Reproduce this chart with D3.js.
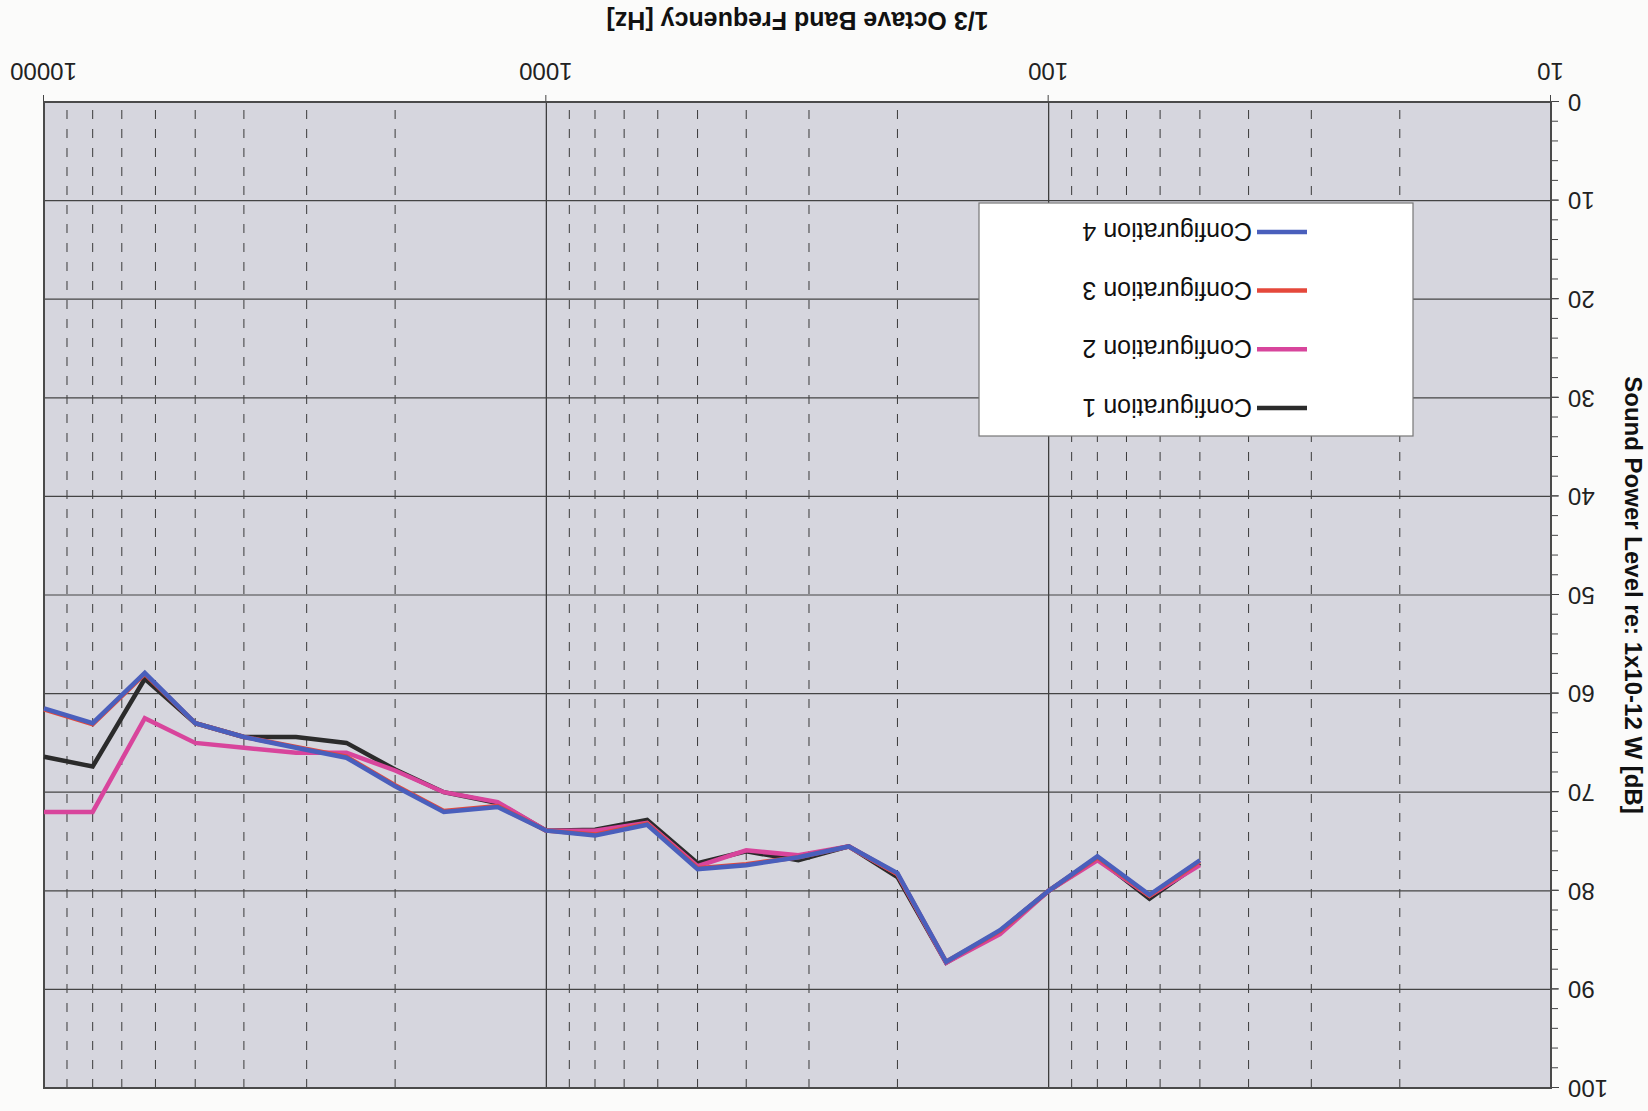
<!DOCTYPE html>
<html>
<head>
<meta charset="utf-8">
<script src="https://cdn.jsdelivr.net/npm/d3@7"></script>
<style>
    body { margin: 0; background: #fbfbfa; }
    svg { display: block; font-family: "Liberation Sans", Arial, sans-serif; }
    .axis path { display: none; }
    .axis line { stroke: #444; }
    .axis text { fill: #222; font-size: 24px; }
</style>
</head>
<body>
<div id="chart"></div>
<script>
// 1/3 octave band centre frequencies [Hz]
const freqs = [50, 63, 80, 100, 125, 160, 200, 250, 315, 400, 500, 630, 800, 1000,
    1250, 1600, 2000, 2500, 3150, 4000, 5000, 6300, 8000, 10000]

const config1 = [77.2, 80.8, 76.7, 80.0, 84.1, 87.3, 78.6, 75.5, 76.9, 76.0, 77.2, 72.8, 73.8, 73.9,
    71.1, 70.0, 67.7, 65.0, 64.4, 64.4, 63.0, 58.5, 67.4, 66.4]
const config2 = [77.4, 80.5, 76.9, 80.0, 84.4, 87.3, 78.3, 75.5, 76.4, 75.9, 77.5, 73.1, 73.9, 73.9,
    71.0, 70.0, 67.8, 66.0, 66.0, 65.5, 65.0, 62.5, 72.0, 72.0]
const config3 = [77.0, 80.5, 76.6, 80.0, 84.1, 87.2, 78.3, 75.5, 76.6, 77.3, 77.7, 73.2, 74.3, 73.9,
    71.4, 71.9, 69.3, 66.4, 65.4, 64.4, 63.0, 58.0, 63.1, 61.6]
const config4 = [76.9, 80.4, 76.5, 80.0, 84.0, 87.2, 78.2, 75.5, 76.6, 77.4, 77.8, 73.3, 74.4, 73.9,
    71.5, 72.0, 69.4, 66.5, 65.5, 64.4, 63.0, 57.9, 63.0, 61.5]

const seriesNames = ["Configuration 1", "Configuration 2", "Configuration 3", "Configuration 4"]
const seriesColors = ["#2b2b2b", "#d8459c", "#e5483b", "#4a5fbc"]

const xTicks = [10, 100, 1000, 10000]
const yTicks = [0, 10, 20, 30, 40, 50, 60, 70, 80, 90, 100]

const W = 1648, H = 1111
const margin = {top: 23, right: 44, bottom: 102, left: 97}
const width = W - margin.left - margin.right
const height = H - margin.top - margin.bottom

const svg = d3.select("#chart")
    .append("svg")
    .attr("width", W)
    .attr("height", H)

// the scanned page is upside down, so the whole chart is turned by 180 degrees
const root = svg.append("g")
    .attr("transform", "rotate(180 " + W / 2 + " " + H / 2 + ")")

const plt = root.append("g")
    .attr("transform", "translate(" + margin.left + "," + margin.top + ")")

const x = d3.scaleLog().domain([10, 10000]).range([0, width])
const y = d3.scaleLinear().domain([0, 100]).range([height, 0])

plt.append("rect")
    .attr("width", width)
    .attr("height", height)
    .attr("fill", "#d6d6de")

// minor (dashed) vertical grid: 20..90 of each decade
const minorX = []
for (let dec = 10; dec < 10000; dec *= 10)
    for (let k = 2; k <= 9; k++) minorX.push(dec * k)

plt.selectAll(".minorX")
    .data(minorX)
    .enter()
    .append("line")
    .attr("x1", d => x(d)).attr("x2", d => x(d))
    .attr("y1", 0).attr("y2", height)
    .attr("stroke", "#3a3a3a")
    .attr("stroke-width", 1)
    .attr("stroke-dasharray", "9,10")

plt.selectAll(".majorX")
    .data(xTicks)
    .enter()
    .append("line")
    .attr("x1", d => x(d)).attr("x2", d => x(d))
    .attr("y1", 0).attr("y2", height)
    .attr("stroke", "#333")
    .attr("stroke-width", 1.2)

plt.selectAll(".majorY")
    .data(yTicks)
    .enter()
    .append("line")
    .attr("x1", 0).attr("x2", width)
    .attr("y1", d => y(d)).attr("y2", d => y(d))
    .attr("stroke", "#444")
    .attr("stroke-width", 1.2)

// axes
plt.append("g")
    .attr("class", "axis")
    .attr("transform", "translate(0," + height + ")")
    .call(d3.axisBottom(x).tickValues(xTicks).tickFormat(d3.format("d")).tickSize(7).tickPadding(15))

plt.append("g")
    .attr("class", "axis")
    .call(d3.axisLeft(y).tickValues(d3.range(0, 101, 2)).tickFormat("").tickSize(7))

plt.append("g")
    .attr("class", "axis")
    .call(d3.axisLeft(y).tickValues(yTicks).tickSize(8).tickPadding(9))

plt.append("rect")
    .attr("width", width)
    .attr("height", height)
    .attr("fill", "none")
    .attr("stroke", "#4a4a4a")
    .attr("stroke-width", 2)

// lines
const allSeries = [config1, config2, config3, config4]
const line = d3.line()
    .x((d, i) => x(freqs[i]))
    .y(d => y(d))

plt.selectAll(".series")
    .data(allSeries)
    .enter()
    .append("path")
    .attr("d", line)
    .attr("fill", "none")
    .attr("stroke", (d, i) => seriesColors[i])
    .attr("stroke-width", 4.5)
    .attr("stroke-linejoin", "miter")

// legend
const legend = plt.append("g")
    .attr("transform", "translate(" + (235 - margin.left) + "," + (675 - margin.top) + ")")

legend.append("rect")
    .attr("width", 434)
    .attr("height", 233)
    .attr("fill", "#fff")
    .attr("stroke", "#777")
    .attr("stroke-width", 1.2)

const entries = legend.selectAll(".entry")
    .data(seriesNames)
    .enter()
    .append("g")
    .attr("transform", (d, i) => "translate(0," + (28 + i * 58.7) + ")")

entries.append("line")
    .attr("x1", 106).attr("x2", 156)
    .attr("stroke", (d, i) => seriesColors[i])
    .attr("stroke-width", 4.5)

entries.append("text")
    .attr("x", 161)
    .attr("dy", "0.36em")
    .attr("font-size", 25)
    .attr("fill", "#111")
    .text(d => d)

// titles
root.append("text")
    .attr("x", margin.left + width / 2)
    .attr("y", 1090)
    .attr("dy", "0.36em")
    .attr("text-anchor", "middle")
    .attr("font-weight", "bold")
    .attr("font-size", 25)
    .attr("fill", "#111")
    .text("1/3 Octave Band Frequency [Hz]")

root.append("text")
    .attr("transform", "translate(14," + (margin.top + height / 2) + ") rotate(-90)")
    .attr("dy", "0.36em")
    .attr("text-anchor", "middle")
    .attr("font-weight", "bold")
    .attr("font-size", 24)
    .attr("fill", "#111")
    .text("Sound Power Level re: 1x10-12 W [dB]")
</script>
</body>
</html>
